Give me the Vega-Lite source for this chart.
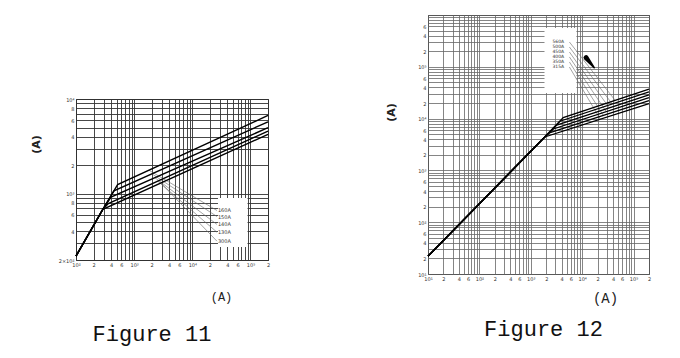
{
  "$schema": "https://vega.github.io/schema/vega-lite/v6.json",
  "padding": {"left": 29, "top": 12, "right": 0, "bottom": 6},
  "background": "white",
  "config": {
    "view": {"stroke": "#222", "strokeWidth": 1},
    "axis": {"domain": false, "ticks": false, "labelFont": "DejaVu Sans", "labelFontSize": 5, "labelColor": "#333", "labelPadding": 2, "labelOverlap": false, "labelBound": false, "labelFlush": false, "gridColor": "#555", "gridWidth": 0.8, "gridOpacity": 1}
  },
  "datasets": {
    "c11": [
      {"s": 0, "o": 0, "x": 100, "y": 220}, {"s": 0, "o": 1, "x": 290, "y": 686}, {"s": 0, "o": 2, "x": 520, "y": 1250}, {"s": 0, "o": 3, "x": 200000, "y": 6700},
      {"s": 1, "o": 0, "x": 100, "y": 220}, {"s": 1, "o": 1, "x": 290, "y": 686}, {"s": 1, "o": 2, "x": 450, "y": 1074}, {"s": 1, "o": 3, "x": 200000, "y": 5750},
      {"s": 2, "o": 0, "x": 100, "y": 220}, {"s": 2, "o": 1, "x": 290, "y": 686}, {"s": 2, "o": 2, "x": 400, "y": 924}, {"s": 2, "o": 3, "x": 200000, "y": 4980},
      {"s": 3, "o": 0, "x": 100, "y": 220}, {"s": 3, "o": 1, "x": 290, "y": 686}, {"s": 3, "o": 2, "x": 360, "y": 787}, {"s": 3, "o": 3, "x": 200000, "y": 4590},
      {"s": 4, "o": 0, "x": 100, "y": 220}, {"s": 4, "o": 1, "x": 290, "y": 686}, {"s": 4, "o": 3, "x": 200000, "y": 4240}
    ],
    "lead11": [
      {"id": 0, "o": 0, "x": 1795, "y": 1772}, {"id": 0, "o": 1, "x": 26500, "y": 666},
      {"id": 1, "o": 0, "x": 2018, "y": 1623}, {"id": 1, "o": 1, "x": 26500, "y": 575},
      {"id": 2, "o": 0, "x": 2268, "y": 1479}, {"id": 2, "o": 1, "x": 26500, "y": 475},
      {"id": 3, "o": 0, "x": 2549, "y": 1359}, {"id": 3, "o": 1, "x": 26500, "y": 393},
      {"id": 4, "o": 0, "x": 2865, "y": 1300}, {"id": 4, "o": 1, "x": 26500, "y": 316}
    ],
    "lab11": [
      {"x": 27500, "y": 666, "t": "160A"}, {"x": 27500, "y": 575, "t": "150A"}, {"x": 27500, "y": 475, "t": "140A"}, {"x": 27500, "y": 393, "t": "130A"}, {"x": 27500, "y": 316, "t": "300A"}
    ],
    "box11": [{"x": 27600, "x2": 88900, "y": 275, "y2": 903}],
    "c12": [
      {"s": 0, "o": 0, "x": 10, "y": 22}, {"s": 0, "o": 1, "x": 1870, "y": 4420}, {"s": 0, "o": 2, "x": 4290, "y": 10450}, {"s": 0, "o": 3, "x": 200000, "y": 37000},
      {"s": 1, "o": 0, "x": 10, "y": 22}, {"s": 1, "o": 1, "x": 1870, "y": 4420}, {"s": 1, "o": 2, "x": 3700, "y": 8900}, {"s": 1, "o": 3, "x": 200000, "y": 32800},
      {"s": 2, "o": 0, "x": 10, "y": 22}, {"s": 2, "o": 1, "x": 1870, "y": 4420}, {"s": 2, "o": 2, "x": 3200, "y": 7500}, {"s": 2, "o": 3, "x": 200000, "y": 28700},
      {"s": 3, "o": 0, "x": 10, "y": 22}, {"s": 3, "o": 1, "x": 1870, "y": 4420}, {"s": 3, "o": 2, "x": 2750, "y": 6300}, {"s": 3, "o": 3, "x": 200000, "y": 25500},
      {"s": 4, "o": 0, "x": 10, "y": 22}, {"s": 4, "o": 1, "x": 1870, "y": 4420}, {"s": 4, "o": 2, "x": 2300, "y": 5300}, {"s": 4, "o": 3, "x": 200000, "y": 22300},
      {"s": 5, "o": 0, "x": 10, "y": 22}, {"s": 5, "o": 1, "x": 1870, "y": 4420}, {"s": 5, "o": 3, "x": 200000, "y": 19500}
    ],
    "lead12": [
      {"id": 0, "o": 0, "x": 5650, "y": 301000}, {"id": 0, "o": 1, "x": 43950, "y": 22470},
      {"id": 1, "o": 0, "x": 5650, "y": 241000}, {"id": 1, "o": 1, "x": 38480, "y": 19140},
      {"id": 2, "o": 0, "x": 5650, "y": 193000}, {"id": 2, "o": 1, "x": 33680, "y": 16120},
      {"id": 3, "o": 0, "x": 5650, "y": 155000}, {"id": 3, "o": 1, "x": 29440, "y": 13650},
      {"id": 4, "o": 0, "x": 5650, "y": 124000}, {"id": 4, "o": 1, "x": 25760, "y": 11540},
      {"id": 5, "o": 0, "x": 5650, "y": 99000}, {"id": 5, "o": 1, "x": 22540, "y": 9760}
    ],
    "lab12": [
      {"x": 2640, "y": 301000, "t": "560A"}, {"x": 2640, "y": 241000, "t": "500A"}, {"x": 2640, "y": 193000, "t": "450A"},
      {"x": 2640, "y": 155000, "t": "400A"}, {"x": 2640, "y": 124000, "t": "350A"}, {"x": 2640, "y": 99000, "t": "315A"}
    ],
    "box12": [{"x": 1850, "x2": 7730, "y": 31200, "y2": 561000}],
    "arrow12": [{"o": 0, "x": 11900, "y": 150000, "w": 5}, {"o": 1, "x": 17200, "y": 96200, "w": 1.5}]
  },
  "spacing": 112,
  "hconcat": [
    {
      "spacing": 20,
      "vconcat": [
        {"width": 192, "height": 61, "view": {"stroke": null}, "data": {"values": [{}]}, "mark": {"type": "point", "opacity": 0}},
        {
          "width": 192, "height": 161,
          "title": {"text": "Figure 11", "orient": "bottom", "anchor": "middle", "frame": "group", "font": "Liberation Mono", "fontSize": 22, "fontWeight": "normal", "color": "#111", "offset": 22, "dx": -20},
          "layer": [
            {
              "data": {"name": "box11"},
              "mark": {"type": "rect", "fill": "white", "stroke": null},
              "encoding": {
                "x": {"field": "x", "type": "quantitative", "scale": {"type": "log", "domain": [100, 200000], "nice": false},
                  "axis": {"grid": true, "gridColor": "#333", "gridWidth": 0.9,
                    "values": [100,200,300,400,500,600,700,800,900,1000,2000,3000,4000,5000,6000,7000,8000,9000,10000,20000,30000,40000,50000,60000,70000,80000,90000,100000,200000],
                    "labelExpr": "datum.value==100?'10²':datum.value==1000?'10³':datum.value==10000?'10⁴':datum.value==100000?'10⁵':indexof([200,400,600,2000,4000,6000,20000,40000,60000,200000],datum.value)>=0?substring(datum.value+'',0,1):''",
                    "title": "(A)", "titleFont": "Liberation Mono", "titleFontSize": 12, "titleFontWeight": "normal", "titleColor": "#222", "titleX": 145, "titleY": 31}},
                "x2": {"field": "x2"},
                "y": {"field": "y", "type": "quantitative", "scale": {"type": "log", "domain": [200, 10000], "nice": false},
                  "axis": {"grid": true, "gridColor": "#333", "gridWidth": 0.9,
                    "values": [200,300,400,500,600,700,800,900,1000,2000,3000,4000,5000,6000,7000,8000,9000,10000],
                    "labelExpr": "datum.value==200?'2×10²':datum.value==1000?'10³':datum.value==10000?'10⁴':indexof([400,600,800,2000,4000,6000,8000],datum.value)>=0?substring(datum.value+'',0,1):''",
                    "title": "(A)", "titleFont": "DejaVu Sans", "titleFontSize": 11, "titleFontWeight": "bold", "titleColor": "#222", "titleX": -35, "titleY": 45}},
                "y2": {"field": "y2"}
              }
            },
            {
              "data": {"name": "lead11"},
              "mark": {"type": "line", "color": "#666", "strokeWidth": 0.6},
              "encoding": {
                "x": {"field": "x", "type": "quantitative"},
                "y": {"field": "y", "type": "quantitative"},
                "detail": {"field": "id"},
                "order": {"field": "o"}
              }
            },
            {
              "data": {"name": "c11"},
              "mark": {"type": "line", "color": "#000", "strokeWidth": 1.4},
              "encoding": {
                "x": {"field": "x", "type": "quantitative"},
                "y": {"field": "y", "type": "quantitative"},
                "detail": {"field": "s"},
                "order": {"field": "o"}
              }
            },
            {
              "data": {"name": "lab11"},
              "mark": {"type": "text", "align": "left", "baseline": "middle", "fontSize": 5, "font": "DejaVu Sans", "color": "#333"},
              "encoding": {
                "x": {"field": "x", "type": "quantitative"},
                "y": {"field": "y", "type": "quantitative"},
                "text": {"field": "t"}
              }
            }
          ]
        }
      ]
    },
    {
      "width": 221, "height": 259,
      "title": {"text": "Figure 12", "orient": "bottom", "anchor": "middle", "frame": "group", "font": "Liberation Mono", "fontSize": 22, "fontWeight": "normal", "color": "#111", "offset": 14, "dx": 5},
      "layer": [
        {
          "data": {"name": "box12"},
          "mark": {"type": "rect", "fill": "white", "stroke": null},
          "encoding": {
            "x": {"field": "x", "type": "quantitative", "scale": {"type": "log", "domain": [10, 200000], "nice": false},
              "axis": {"grid": true, "gridColor": "#666",
                "values": [10,20,30,40,50,60,70,80,90,100,200,300,400,500,600,700,800,900,1000,2000,3000,4000,5000,6000,7000,8000,9000,10000,20000,30000,40000,50000,60000,70000,80000,90000,100000,200000],
                "labelExpr": "datum.value==10?'10¹':datum.value==100?'10²':datum.value==1000?'10³':datum.value==10000?'10⁴':datum.value==100000?'10⁵':indexof([20,40,60,200,400,600,2000,4000,6000,20000,40000,60000,200000],datum.value)>=0?substring(datum.value+'',0,1):''",
                "title": "(A)", "titleFont": "Liberation Mono", "titleFontSize": 14, "titleFontWeight": "normal", "titleColor": "#222", "titleX": 177, "titleY": 17}},
            "x2": {"field": "x2"},
            "y": {"field": "y", "type": "quantitative", "scale": {"type": "log", "domain": [10, 1000000], "nice": false},
              "axis": {"grid": true, "gridColor": "#666",
                "values": [10,20,30,40,50,60,70,80,90,100,200,300,400,500,600,700,800,900,1000,2000,3000,4000,5000,6000,7000,8000,9000,10000,20000,30000,40000,50000,60000,70000,80000,90000,100000,200000,300000,400000,500000,600000,700000,800000,900000,1000000],
                "labelExpr": "datum.value==10?'10¹':datum.value==100?'10²':datum.value==1000?'10³':datum.value==10000?'10⁴':datum.value==100000?'10⁵':indexof([20,40,60,200,400,600,2000,4000,6000,20000,40000,60000,200000,400000,600000],datum.value)>=0?substring(datum.value+'',0,1):''",
                "title": "(A)", "titleFont": "DejaVu Sans", "titleFontSize": 11, "titleFontWeight": "bold", "titleColor": "#222", "titleX": -32, "titleY": 97}},
            "y2": {"field": "y2"}
          }
        },
        {
          "data": {"name": "lead12"},
          "mark": {"type": "line", "color": "#666", "strokeWidth": 0.6},
          "encoding": {
            "x": {"field": "x", "type": "quantitative"},
            "y": {"field": "y", "type": "quantitative"},
            "detail": {"field": "id"},
            "order": {"field": "o"}
          }
        },
        {
          "data": {"name": "c12"},
          "mark": {"type": "line", "color": "#000", "strokeWidth": 1.3},
          "encoding": {
            "x": {"field": "x", "type": "quantitative"},
            "y": {"field": "y", "type": "quantitative"},
            "detail": {"field": "s"},
            "order": {"field": "o"}
          }
        },
        {
          "data": {"name": "arrow12"},
          "mark": {"type": "trail", "color": "#000"},
          "encoding": {
            "x": {"field": "x", "type": "quantitative"},
            "y": {"field": "y", "type": "quantitative"},
            "size": {"field": "w", "type": "quantitative", "scale": null},
            "order": {"field": "o"}
          }
        },
        {
          "data": {"name": "lab12"},
          "mark": {"type": "text", "align": "left", "baseline": "middle", "fontSize": 4.5, "font": "DejaVu Sans", "color": "#333"},
          "encoding": {
            "x": {"field": "x", "type": "quantitative"},
            "y": {"field": "y", "type": "quantitative"},
            "text": {"field": "t"}
          }
        }
      ]
    }
  ]
}
